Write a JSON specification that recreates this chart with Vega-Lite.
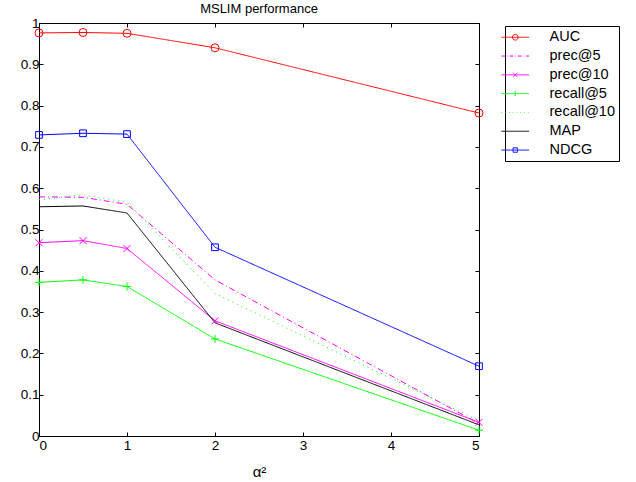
{
  "$schema": "https://vega.github.io/schema/vega-lite/v6.json",
  "width": 440,
  "height": 413,
  "autosize": "none",
  "padding": {"left": 39, "top": 23, "right": 157, "bottom": 46},
  "background": "white",
  "config": {
    "font": "Liberation Sans",
    "view": {"stroke": "black", "strokeWidth": 1},
    "axis": {"grid": false, "domainColor": "black", "tickColor": "black", "labelColor": "black", "titleColor": "black", "labelFont": "Liberation Sans", "titleFont": "Liberation Sans", "labelFontSize": 13.5, "titleFontSize": 15, "titleFontWeight": "normal", "tickSize": -4, "domainWidth": 1, "tickWidth": 1}
  },
  "title": {"text": "MSLIM performance", "fontSize": 13, "fontWeight": "normal", "font": "Liberation Sans", "color": "black", "offset": 0, "anchor": "middle"},
  "data": {"values": [
    {"metric": "AUC", "x": 0, "y": 0.976},
    {"metric": "AUC", "x": 0.5, "y": 0.977},
    {"metric": "AUC", "x": 1, "y": 0.975},
    {"metric": "AUC", "x": 2, "y": 0.940},
    {"metric": "AUC", "x": 5, "y": 0.782},
    {"metric": "prec@5", "x": 0, "y": 0.579},
    {"metric": "prec@5", "x": 0.5, "y": 0.578},
    {"metric": "prec@5", "x": 1, "y": 0.561},
    {"metric": "prec@5", "x": 2, "y": 0.378},
    {"metric": "prec@5", "x": 5, "y": 0.030},
    {"metric": "prec@10", "x": 0, "y": 0.468},
    {"metric": "prec@10", "x": 0.5, "y": 0.473},
    {"metric": "prec@10", "x": 1, "y": 0.454},
    {"metric": "prec@10", "x": 2, "y": 0.279},
    {"metric": "prec@10", "x": 5, "y": 0.033},
    {"metric": "recall@5", "x": 0, "y": 0.372},
    {"metric": "recall@5", "x": 0.5, "y": 0.378},
    {"metric": "recall@5", "x": 1, "y": 0.362},
    {"metric": "recall@5", "x": 2, "y": 0.235},
    {"metric": "recall@5", "x": 5, "y": 0.014},
    {"metric": "recall@10", "x": 0, "y": 0.572},
    {"metric": "recall@10", "x": 0.5, "y": 0.584},
    {"metric": "recall@10", "x": 1, "y": 0.566},
    {"metric": "recall@10", "x": 2, "y": 0.345},
    {"metric": "recall@10", "x": 5, "y": 0.037},
    {"metric": "MAP", "x": 0, "y": 0.555},
    {"metric": "MAP", "x": 0.5, "y": 0.557},
    {"metric": "MAP", "x": 1, "y": 0.540},
    {"metric": "MAP", "x": 2, "y": 0.274},
    {"metric": "MAP", "x": 5, "y": 0.027},
    {"metric": "NDCG", "x": 0, "y": 0.729},
    {"metric": "NDCG", "x": 0.5, "y": 0.733},
    {"metric": "NDCG", "x": 1, "y": 0.731},
    {"metric": "NDCG", "x": 2, "y": 0.457},
    {"metric": "NDCG", "x": 5, "y": 0.169}
  ]},
  "resolve": {"axis": {"x": "independent", "y": "independent"}},
  "layer": [
    {
      "mark": {"type": "line", "strokeWidth": 1},
      "encoding": {
        "x": {"field": "x", "type": "quantitative", "scale": {"domain": [0, 5], "nice": false, "zero": false}, "axis": {"orient": "bottom", "values": [0, 1, 2, 3, 4, 5], "title": "α²", "labelPadding": 6, "titlePadding": 13}},
        "y": {"field": "y", "type": "quantitative", "scale": {"domain": [0, 1], "nice": false}, "axis": {"orient": "left", "values": [0, 0.1, 0.2, 0.3, 0.4, 0.5, 0.6, 0.7, 0.8, 0.9, 1], "format": ".1~f", "title": null, "labelPadding": 4}},
        "color": {"field": "metric", "type": "nominal", "scale": {"domain": ["AUC", "prec@5", "prec@10", "recall@5", "recall@10", "MAP", "NDCG"], "range": ["#ff0000", "#ff00ff", "#ff00ff", "#00ff00", "#00ff00", "#000000", "#0000ff"]}},
        "strokeDash": {"field": "metric", "type": "nominal", "scale": {"domain": ["AUC", "prec@5", "prec@10", "recall@5", "recall@10", "MAP", "NDCG"], "range": [[1, 0], [6, 3, 1, 3], [1, 0], [1, 0], [1, 4], [1, 0], [1, 0]]}, "legend": null},
        "order": {"field": "x", "type": "quantitative"}
      }
    },
    {
      "transform": [{"filter": "datum.metric === 'AUC'"}],
      "mark": {"type": "point", "shape": "circle", "filled": false, "size": 64, "strokeWidth": 1, "opacity": 1},
      "encoding": {
        "x": {"field": "x", "type": "quantitative", "axis": {"orient": "top", "values": [0, 1, 2, 3, 4, 5], "labels": false, "title": null}},
        "y": {"field": "y", "type": "quantitative", "axis": {"orient": "right", "values": [0, 0.1, 0.2, 0.3, 0.4, 0.5, 0.6, 0.7, 0.8, 0.9, 1], "labels": false, "title": null}},
        "color": {"field": "metric", "type": "nominal"}
      }
    },
    {
      "transform": [{"filter": "datum.metric === 'prec@10'"}],
      "mark": {"type": "point", "shape": "M-1,-1L1,1M-1,1L1,-1", "filled": false, "size": 49, "strokeWidth": 1, "opacity": 1},
      "encoding": {
        "x": {"field": "x", "type": "quantitative", "axis": null},
        "y": {"field": "y", "type": "quantitative", "axis": null},
        "color": {"field": "metric", "type": "nominal"}
      }
    },
    {
      "transform": [{"filter": "datum.metric === 'recall@5'"}],
      "mark": {"type": "point", "shape": "M-1,0L1,0M0,-1L0,1", "filled": false, "size": 64, "strokeWidth": 1, "opacity": 1},
      "encoding": {
        "x": {"field": "x", "type": "quantitative", "axis": null},
        "y": {"field": "y", "type": "quantitative", "axis": null},
        "color": {"field": "metric", "type": "nominal"}
      }
    },
    {
      "transform": [{"filter": "datum.metric === 'NDCG'"}],
      "mark": {"type": "point", "shape": "square", "filled": false, "size": 45, "strokeWidth": 1, "opacity": 1},
      "encoding": {
        "x": {"field": "x", "type": "quantitative", "axis": null},
        "y": {"field": "y", "type": "quantitative", "axis": null},
        "color": {"field": "metric", "type": "nominal"}
      }
    },
    {
      "transform": [{"filter": "datum.x < 0"}],
      "mark": {"type": "point", "filled": false, "strokeWidth": 1, "opacity": 1},
      "encoding": {
        "x": {"field": "x", "type": "quantitative", "axis": null},
        "y": {"field": "y", "type": "quantitative", "axis": null},
        "color": {"field": "metric", "type": "nominal", "legend": {"title": null, "orient": "none", "legendX": 466, "legendY": 3, "padding": 4, "strokeColor": "black", "fillColor": "white", "symbolSize": 100, "symbolStrokeWidth": 1, "symbolOffset": -1, "labelOffset": 27, "rowPadding": 3.8, "labelFont": "Liberation Sans", "labelFontSize": 14.5, "labelColor": "black", "symbolOpacity": 1, "symbolType": "circle"}},
        "shape": {"field": "metric", "type": "nominal", "scale": {"domain": ["AUC", "prec@5", "prec@10", "recall@5", "recall@10", "MAP", "NDCG"], "range": [
          "M-2.77,0L2.77,0M0.57,0A0.57,0.57,0,1,1,-0.57,0A0.57,0.57,0,1,1,0.57,0",
          "M-2.77,0L-2.02,0M-1.64,0L-1.51,0M-1.13,0L-0.38,0M0,0L0.13,0M0.5,0L1.26,0M1.64,0L1.76,0M2.14,0L2.77,0",
          "M-2.77,0L2.77,0M-0.44,-0.44L0.44,0.44M-0.44,0.44L0.44,-0.44",
          "M-2.77,0L2.77,0M0,-0.5L0,0.5",
          "M-2.77,0L-2.65,0M-2.02,0L-1.9,0M-1.26,0L-1.13,0M-0.5,0L-0.38,0M0.25,0L0.38,0M1.01,0L1.13,0M1.76,0L1.89,0M2.52,0L2.65,0",
          "M-2.77,0L2.77,0",
          "M-2.77,0L2.77,0M-0.44,-0.44L0.44,-0.44L0.44,0.44L-0.44,0.44Z"
        ]}, "legend": {"title": null}}
      }
    }
  ]
}
